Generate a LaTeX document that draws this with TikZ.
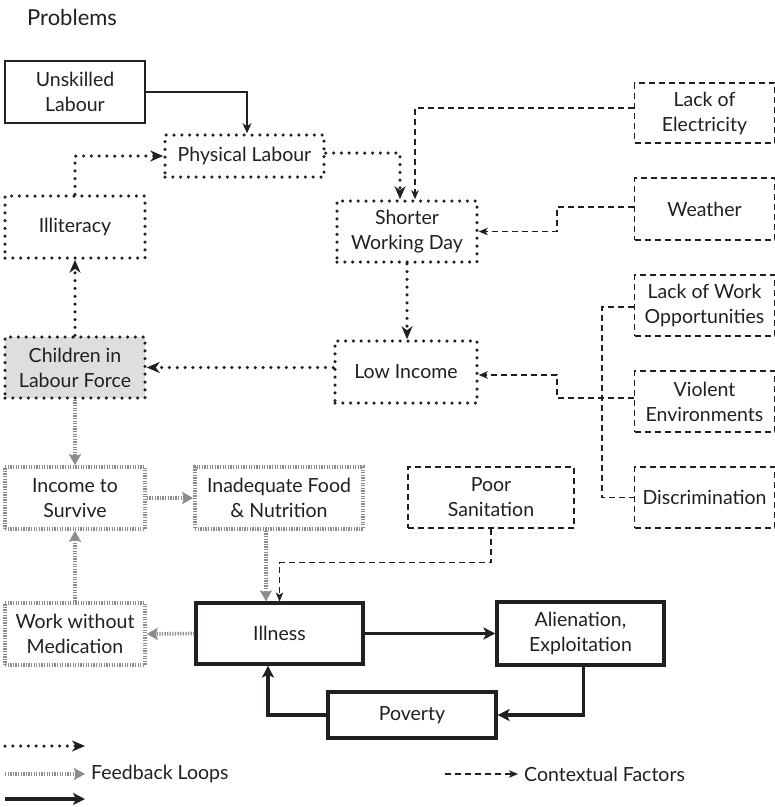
\documentclass[tikz,border=0pt]{standalone}
\usepackage{fontspec}
\setmainfont{Lato}
\usetikzlibrary{arrows.meta,positioning}

\definecolor{inkblack}{RGB}{35,31,32}
\definecolor{loopgray}{RGB}{140,140,142}
\definecolor{childfill}{RGB}{221,222,224}

\begin{document}
\begin{tikzpicture}[
  x=1pt, y=-1pt,
  box/.style={
    rectangle, inner sep=1pt, align=center,
    font=\fontsize{19.5}{25}\selectfont, text=inkblack,
    minimum width=140pt, minimum height=62pt
  },
  dotbox/.style={box, draw=inkblack, line width=3.5pt, line cap=round, dash pattern=on 0pt off 7.8pt},
  greybox/.style={box, draw=loopgray, line width=3.6pt, dash pattern=on 1.3pt off 1.3pt},
  factorbox/.style={box, draw=inkblack, line width=1.1pt, dash pattern=on 6pt off 4pt},
  corebox/.style={box, draw=inkblack, line width=3.2pt},
  dotarrow/.style={draw=inkblack, line width=3.5pt, line cap=round, dash pattern=on 0pt off 7.8pt,
    -{Stealth[length=13pt,width=11pt,inset=4pt]}},
  greyarrow/.style={draw=loopgray, line width=3.6pt, dash pattern=on 1.3pt off 1.3pt,
    -{Stealth[length=11pt,width=12pt,inset=2pt]}},
  factorarrow/.style={draw=inkblack, line width=1.1pt, dash pattern=on 6pt off 4pt,
    -{Stealth[length=9pt,width=7.5pt,inset=2.5pt]}},
  corearrow/.style={draw=inkblack, line width=3.2pt, -{Stealth[length=12pt,width=12pt,inset=3pt]}},
  keytext/.style={anchor=west, inner sep=0pt, font=\fontsize{19.5}{25}\selectfont, text=inkblack}
]
\useasboundingbox (0,0) rectangle (775,807);

\node[keytext, font=\fontsize{22}{26}\selectfont] (title) at (27,17) {Problems};

% problem chain
\node[box, draw=inkblack, line width=2.2pt] (unskilled) at (75,92) {Unskilled\\Labour};
\node[dotbox, minimum width=159pt, minimum height=42pt] (physical) at (244.5,156) {Physical Labour};
\node[dotbox] (illiteracy) at (75,227) {Illiteracy};
\node[dotbox, minimum height=61pt] (shorter) at (407,231.5) {Shorter\\Working Day};
\node[dotbox, minimum width=142pt] (lowincome) at (406,372) {Low Income};
\node[dotbox, fill=childfill, minimum height=61pt] (children) at (75,367.5) {Children in\\Labour Force};

% contextual factors
\node[factorbox, minimum height=60pt] (electricity) at (704.5,113) {Lack of\\Electricity};
\node[factorbox] (weather) at (704.5,209) {Weather};
\node[factorbox, minimum height=61pt] (lackwork) at (704.5,305.5) {Lack of Work\\Opportunities};
\node[factorbox, minimum height=61pt] (violent) at (704.5,401.5) {Violent\\Environments};
\node[factorbox, minimum height=61pt] (discrim) at (704.5,497.5) {Discrimination};
\node[factorbox, minimum width=166pt, minimum height=61pt] (sanitation) at (491,497.5) {Poor\\Sanitation};

% feedback loop
\node[greybox] (survive) at (75,498) {Income to\\Survive};
\node[greybox, minimum width=168pt] (food) at (279,498) {Inadequate Food\\\& Nutrition};
\node[greybox] (nomed) at (75,634) {Work without\\Medication};

% core cycle
\node[corebox, minimum width=167pt, minimum height=61pt] (illness) at (279.5,633.5) {Illness};
\node[corebox, minimum width=167pt, minimum height=63pt] (alienation) at (580.5,633.5) {Alienation,\\Exploitation};
\node[corebox, minimum width=168pt, minimum height=46pt] (poverty) at (412,715) {Poverty};

\draw[inkblack, line width=1.2pt, -{Stealth[length=10pt,width=9pt,inset=3pt]}]
  (unskilled.east) -| ([xshift=2.5pt]physical.north);
\draw[dotarrow] (illiteracy.north) |- (physical.west);
\draw[dotarrow] ([yshift=3pt]physical.east) -| ([xshift=-7pt]shorter.north);
\draw[factorarrow] ([yshift=5pt]electricity.west) -| ([xshift=8pt]shorter.north);
\draw[factorarrow] ([yshift=2pt]weather.west) -- ++(-77,0) |- (shorter.east);
\draw[dotarrow] (shorter.south) -- (shorter.south |- lowincome.north);
\draw[dotarrow] (lowincome.west |- children.east) -- (children.east);
\draw[dotarrow] (children.north) -- (illiteracy.south);
\draw[factorarrow, -] ([yshift=-1.5pt]lackwork.west) -- ++(-32,0) |- (discrim.west);
\draw[factorarrow] ([yshift=3.5pt]violent.west) -- ++(-77,0) |- ([yshift=-3pt]lowincome.east);

\draw[greyarrow] (children.south) -- (survive.north);
\draw[greyarrow] (survive.east) -- (food.west);
\draw[greyarrow] ([xshift=-13pt]food.south) -- ([xshift=-13.5pt]illness.north);
\draw[factorarrow] (sanitation.south) -- ++(0,34) -| (illness.north);
\draw[greyarrow] (illness.west) -- (nomed.east);
\draw[greyarrow] (nomed.north) -- (survive.south);

\draw[corearrow] (illness.east) -- (alienation.west);
\draw[corearrow] ([xshift=3pt]alienation.south) |- (poverty.east);
\draw[corearrow] (poverty.west) -| ([xshift=-11.5pt]illness.south);

% key
\coordinate (dotkeyA) at (5,746);
\coordinate (dotkeyB) at (85,746);
\coordinate (greykeyA) at (5,774);
\coordinate (greykeyB) at (85,774);
\coordinate (corekeyA) at (5,799);
\coordinate (corekeyB) at (85,799);
\coordinate (factorkeyA) at (445,774);
\coordinate (factorkeyB) at (518,774);
\draw[dotarrow] (dotkeyA) -- (dotkeyB);
\draw[greyarrow] (greykeyA) -- (greykeyB);
\draw[corearrow] (corekeyA) -- (corekeyB);
\draw[factorarrow] (factorkeyA) -- (factorkeyB);
\node[keytext] (feedback) at (91,774) {Feedback Loops};
\node[keytext] (contextual) at (524,774) {Contextual Factors};

\end{tikzpicture}
\end{document}
